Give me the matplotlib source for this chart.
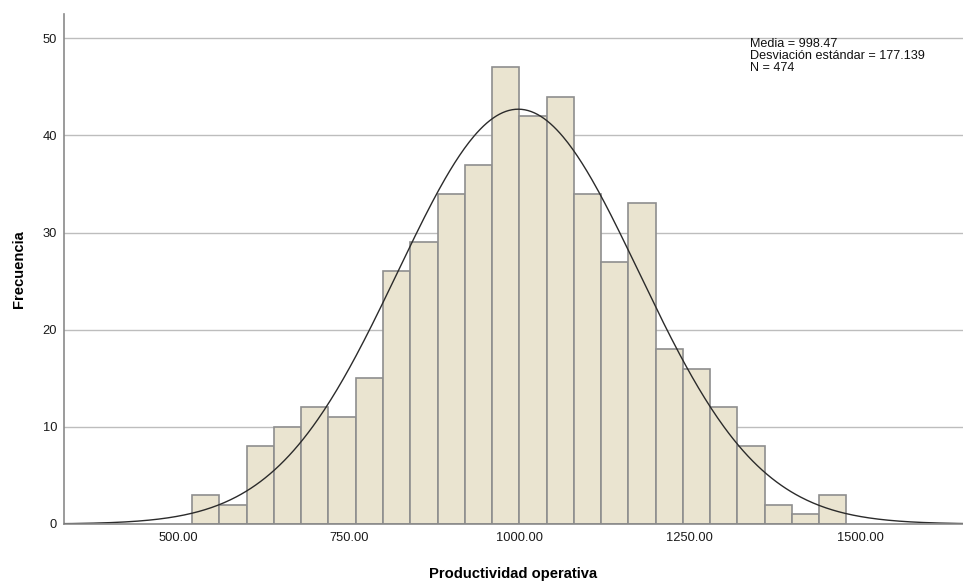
import numpy as np
import matplotlib
matplotlib.use("Agg")
import matplotlib.pyplot as plt


# histogram of "Productividad operativa" (SPSS style)
BIN_START = 520
BIN_WIDTH = 40
COUNTS = [3, 2, 8, 10, 12, 11, 15, 26, 29, 34, 37, 47,
          42, 44, 34, 27, 33, 18, 16, 12, 8, 2, 1, 3]

MEAN = 998.47
STD = 177.139
N = 474

X_TICKS = [500, 750, 1000, 1250, 1500]
Y_TICKS = [0, 10, 20, 30, 40, 50]

BAR_COLOR = "#EAE4D0"
EDGE_COLOR = "#8E8E8E"
GRID_COLOR = "#BDBDBD"
AXIS_COLOR = "#8A8A8A"


def main() -> None:
    plt.rcParams["font.family"] = ["Liberation Sans", "DejaVu Sans"]

    fig = plt.figure(figsize=(9.63, 5.85), dpi=100)
    ax = fig.add_axes([64 / 963, 61 / 585, 899 / 963, 510 / 585])

    edges = BIN_START + BIN_WIDTH * np.arange(len(COUNTS) + 1)
    ax.bar(
        edges[:-1],
        COUNTS,
        width=BIN_WIDTH,
        align="edge",
        color=BAR_COLOR,
        edgecolor=EDGE_COLOR,
        linewidth=1.2,
        zorder=2,
    )

    x = np.linspace(300, 1700, 600)
    density = np.exp(-0.5 * ((x - MEAN) / STD) ** 2) / (STD * np.sqrt(2 * np.pi))
    ax.plot(x, density * N * BIN_WIDTH, color="#2B2B2B", linewidth=1.0, zorder=3)

    ax.set_xlim(332, 1651)
    ax.set_ylim(0, 52.5)
    ax.set_xticks(X_TICKS)
    ax.set_xticklabels([f"{t:.2f}" for t in X_TICKS])
    ax.set_yticks(Y_TICKS)
    ax.tick_params(axis="both", length=0, labelsize=9.3, colors="#1A1A1A")
    ax.tick_params(axis="x", pad=6)
    ax.tick_params(axis="y", pad=5)

    ax.yaxis.grid(True, color=GRID_COLOR, linewidth=1.0, zorder=0)
    ax.set_axisbelow(True)

    for side in ("top", "right"):
        ax.spines[side].set_visible(False)
    for side in ("left", "bottom"):
        ax.spines[side].set_color(AXIS_COLOR)
        ax.spines[side].set_linewidth(1.2)
    ax.spines["bottom"].set_zorder(4)

    ax.set_xlabel("Productividad operativa", fontsize=10.6,
                  fontweight="bold", labelpad=16)
    ax.set_ylabel("Frecuencia", fontsize=10.6, fontweight="bold", labelpad=12)

    ax.text(
        0.7634, 0.952,
        f"Media = {MEAN:.2f}\nDesviación estándar = {STD:.3f}\nN = {N}",
        transform=ax.transAxes,
        fontsize=9.1,
        va="top",
        ha="left",
        linespacing=1.0,
        color="#111111",
    )

    fig.savefig("out.png", dpi=100)
    plt.close(fig)


if __name__ == "__main__":
    main()
